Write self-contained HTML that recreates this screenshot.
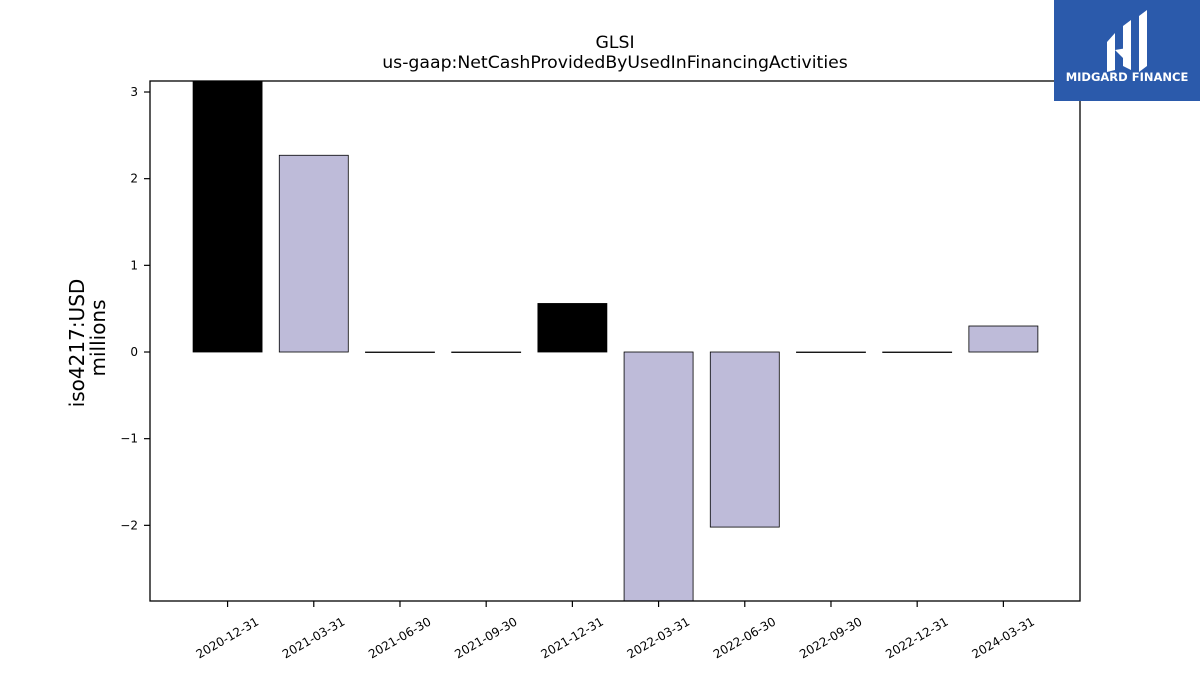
<!DOCTYPE html>
<html><head><meta charset="utf-8"><style>
body{margin:0;background:#fff;}
svg{display:block;font-family:"DejaVu Sans","Liberation Sans",sans-serif;}
</style></head><body>
<svg id="chart" width="1200" height="675">
<text x="615" y="48" text-anchor="middle" font-size="17.3">GLSI</text>
<text x="615" y="68" text-anchor="middle" font-size="17.3">us-gaap:NetCashProvidedByUsedInFinancingActivities</text>
<text transform="translate(84,343) rotate(-90)" text-anchor="middle" font-size="20">iso4217:USD</text>
<text transform="translate(105,338) rotate(-90)" text-anchor="middle" font-size="20">millions</text>
<g id="bars"></g><g id="yticks"></g><g id="xticks"></g>
<rect x="150" y="81" width="930" height="520" fill="none" stroke="#000" stroke-width="1.3"/>
<g>
<rect x="1054" y="0" width="146" height="101" fill="#2b5aab"/>
<path d="M1107 42 L1115 33 L1115 70 L1107 72 Z M1123 26 L1131 20 L1131 70 L1123 66 Z M1139 16 L1147 10 L1147 66 L1139 72 Z M1115 50 L1127 48 L1131 55 L1123 58 Z" fill="#fff"/>
<text x="1127" y="81" text-anchor="middle" font-size="11.5" font-weight="bold" fill="#fff">MIDGARD FINANCE</text>
</g>
</svg>
<script>
const categories=["2020-12-31","2021-03-31","2021-06-30","2021-09-30","2021-12-31","2022-03-31","2022-06-30","2022-09-30","2022-12-31","2024-03-31"];
const values=[3.3,2.27,0,0,0.56,-3.0,-2.02,0,0,0.3];
const highlight=[true,false,false,false,true,false,false,false,false,false];
const yTicks=[-2,-1,0,1,2,3];
const yLabels=["\u22122","\u22121","0","1","2","3"];
const NS="http://www.w3.org/2000/svg";
const yMin=-2.873,yMax=3.127,plotTop=81,plotBot=601,plotLeft=150,step=86.2;
const yScale=v=>plotBot-(Math.max(yMin,Math.min(yMax,v))-yMin)/(yMax-yMin)*(plotBot-plotTop);
const xScale=i=>plotLeft+(i+0.9)*step;
function mk(t,a,p){const e=document.createElementNS(NS,t);for(const k in a)e.setAttribute(k,a[k]);p.appendChild(e);return e;}
const barsG=document.getElementById('bars'),ytG=document.getElementById('yticks'),xtG=document.getElementById('xticks');
values.forEach((v,i)=>{
 const y0=yScale(0),y1=yScale(v);
 const r=mk('rect',{x:xScale(i)-34.5,y:Math.min(y0,y1),width:69,height:Math.max(Math.abs(y1-y0),0.5),fill:highlight[i]?'#000':'#bebbd9',stroke:'#000','stroke-width':0.8},barsG);
 
 
});
yTicks.forEach((t,i)=>{
 const l=mk('line',{x1:144,x2:150,y1:yScale(t),y2:yScale(t),stroke:'#000','stroke-width':1.2},ytG);
 
 
 const tx=mk('text',{x:138,y:yScale(t)+4,'text-anchor':'end','font-size':12},ytG);
 tx.textContent=yLabels[i];
 
 
});
categories.forEach((c,i)=>{
 const l=mk('line',{x1:xScale(i),x2:xScale(i),y1:601,y2:607,stroke:'#000','stroke-width':1.2},xtG);
 
 
 const tx=mk('text',{transform:`translate(${xScale(i)+32},${624}) rotate(-30)`,'text-anchor':'end','font-size':12},xtG);
 tx.textContent=c;
 
 
});
</script>
</body></html>
